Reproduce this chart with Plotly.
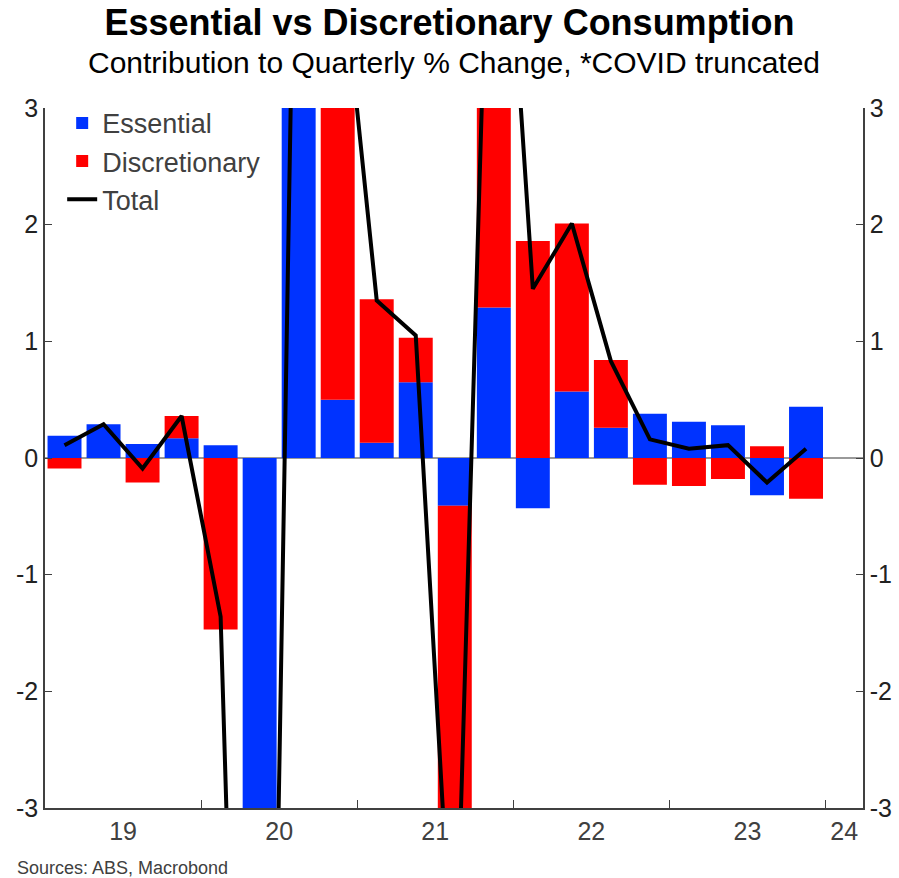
import plotly.graph_objects as go

# Quarterly periods, 2019Q1 .. 2023Q4 (position = mid-quarter in fractional years)
quarters = ["2019Q1","2019Q2","2019Q3","2019Q4",
            "2020Q1","2020Q2","2020Q3","2020Q4",
            "2021Q1","2021Q2","2021Q3","2021Q4",
            "2022Q1","2022Q2","2022Q3","2022Q4",
            "2023Q1","2023Q2","2023Q3","2023Q4"]
xpos = [int(q[:4]) + (int(q[-1]) - 0.5) / 4 for q in quarters]

essential = [0.19, 0.29, 0.12, 0.17,
             0.11, -4.5, 3.4, 0.50,
             0.13, 0.65, -0.41, 1.29,
             -0.43, 0.57, 0.26, 0.38,
             0.31, 0.28, -0.32, 0.44]
discretionary = [-0.09, 0.0, -0.21, 0.19,
                 -1.47, -8.0, 3.6, 4.10,
                 1.23, 0.38, -4.40, 5.20,
                 1.86, 1.44, 0.58, -0.23,
                 -0.24, -0.18, 0.10, -0.35]
total = [0.11, 0.29, -0.09, 0.36,
         -1.36, -12.5, 7.0, 4.6,
         1.35, 1.05, -4.8, 6.5,
         1.45, 2.01, 0.83, 0.16,
         0.08, 0.11, -0.21, 0.08]

year_ticks = [2020, 2021, 2022, 2023, 2024]
label_pos = [2019.5, 2020.5, 2021.5, 2022.5, 2023.5, 2024.12]
label_text = ["19", "20", "21", "22", "23", "24"]
y_ticks = [-3, -2, -1, 0, 1, 2, 3]
y_text = ["-3", "-2", "-1", "0", "1", "2", "3"]

FONT = "Liberation Sans, Arial, sans-serif"
AX = "#404040"

fig = go.Figure()
fig.add_trace(go.Bar(x=xpos, y=essential, name="Essential",
                     marker=dict(color="#0033FF", line=dict(width=0))))
fig.add_trace(go.Bar(x=xpos, y=discretionary, name="Discretionary",
                     marker=dict(color="#FF0000", line=dict(width=0))))
fig.add_trace(go.Scatter(x=xpos, y=total, name="Total", mode="lines",
                         line=dict(color="black", width=4),
                         yaxis="y2", cliponaxis=True))

fig.update_layout(
    width=899, height=878,
    barmode="relative", bargap=0.13,
    plot_bgcolor="white", paper_bgcolor="white",
    margin=dict(l=45, r=36, t=108, b=70, autoexpand=False),
    font=dict(family=FONT, size=25, color=AX),
    title=dict(text="<b>Essential vs Discretionary Consumption</b>",
               x=0.5, xanchor="center", y=1 - 22 / 878, yanchor="middle",
               font=dict(family=FONT, size=36, color="black")),
    showlegend=True,
    legend=dict(x=0.021, y=1.013, xanchor="left", yanchor="top",
                bgcolor="rgba(0,0,0,0)", font=dict(size=27, color=AX),
                traceorder="normal"),
    xaxis=dict(range=[2019.0, 2024.24], tickmode="array", automargin=False,
               tickvals=label_pos, ticktext=label_text, ticks="",
               showline=True, linecolor=AX, linewidth=1.5,
               showgrid=False, zeroline=False,
               tickfont=dict(size=25, color=AX),
               minor=dict(tickmode="array", tickvals=year_ticks,
                          ticks="inside", ticklen=8, tickcolor=AX,
                          showgrid=False)),
    yaxis=dict(range=[-3, 3], tickmode="array", tickvals=y_ticks, ticktext=y_text,
               automargin=False,
               ticks="inside", ticklen=7, tickcolor=AX,
               showline=True, linecolor=AX, linewidth=1.5,
               showgrid=False, zeroline=True, zerolinecolor="#999999",
               zerolinewidth=1.5, tickfont=dict(size=25, color="#222222")),
    yaxis2=dict(range=[-3, 3], overlaying="y", side="right",
                tickmode="array", tickvals=y_ticks, ticktext=y_text,
                automargin=False,
                ticks="inside", ticklen=7, tickcolor=AX,
                showline=True, linecolor=AX, linewidth=1.5,
                showgrid=False, zeroline=False,
                tickfont=dict(size=25, color="#222222")),
)

fig.add_annotation(text="Contribution to Quarterly % Change, *COVID truncated",
                   xref="paper", yref="paper", x=0.5, y=1.0,
                   yshift=46, xanchor="center", yanchor="middle",
                   showarrow=False, font=dict(family=FONT, size=30, color="black"))
fig.add_annotation(text="Sources: ABS, Macrobond",
                   xref="paper", yref="paper", x=0, y=0, xshift=-30, yshift=-60,
                   xanchor="left", yanchor="middle", showarrow=False,
                   font=dict(family=FONT, size=18, color=AX))

fig.write_html("out.html", config={"displayModeBar": False},
               post_script="document.body.style.margin='0';"
                           "document.body.style.overflow='hidden';")
